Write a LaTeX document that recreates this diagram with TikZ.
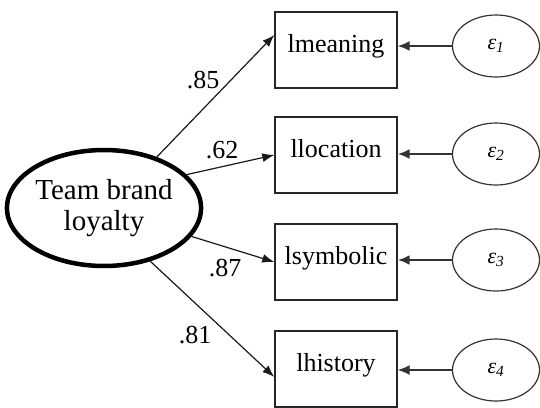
\documentclass[tikz,border=0pt]{standalone}
\usepackage{fontspec}
\setmainfont{Liberation Serif}
\usetikzlibrary{arrows.meta,shapes.geometric}
\begin{document}
\begin{tikzpicture}[x=1pt,y=-1pt,
  latent/.style={ellipse,draw=black,line width=4.5pt,minimum width=190pt,minimum height=116pt,
    inner sep=0pt,align=center,font=\fontsize{29}{31}\selectfont},
  indicator/.style={rectangle,draw=black!85,line width=1.4pt,minimum width=122pt,minimum height=76pt,
    inner sep=0pt,text height=18pt,text depth=14pt,font=\fontsize{26}{28}\selectfont},
  errterm/.style={ellipse,draw=black!80,line width=1.2pt,minimum width=87pt,minimum height=62pt,
    inner sep=0pt,font=\fontsize{22}{24}\selectfont\itshape},
  loading/.style={draw=black!90,line width=1.2pt,-{Latex[length=12pt,width=9pt]}},
  errpath/.style={draw=black!80,-{Latex[length=12pt,width=10pt]}},
  coef/.style={font=\fontsize{26}{28}\selectfont}]
\useasboundingbox (0,0) rectangle (540,407);

% latent factor
\node[latent] (tbl) at (104,208) {Team brand\\loyalty};

% observed indicators
\node[indicator] (m1) at (336,50)  {lmeaning};
\node[indicator] (m2) at (336,155) {llocation};
\node[indicator] (m3) at (336,262) {lsymbolic};
\node[indicator] (m4) at (336,369) {lhistory};

% error terms
\node[errterm] (e1) at (496,46)  {ε\textsubscript{1}};
\node[errterm] (e2) at (496,154) {ε\textsubscript{2}};
\node[errterm] (e3) at (496,260) {ε\textsubscript{3}};
\node[errterm] (e4) at (496,370) {ε\textsubscript{4}};

% factor loadings
\draw[loading] (tbl.44) -- ([yshift=15pt]m1.west);
\draw[loading] (tbl.22) -- (m2.west);
\draw[loading] (tbl.-18) -- (m3.west);
\draw[loading] (tbl.-49) -- ([yshift=-8pt]m4.west);

\node[coef] (c1) at (203,80)  {.85};
\node[coef] (c2) at (222,150) {.62};
\node[coef] (c3) at (225,268) {.87};
\node[coef] (c4) at (195,335) {.81};

% error paths
\draw[errpath,line width=1.8pt] (e1.west) -- (e1.west -| m1.east);
\draw[errpath,line width=2.2pt] (e2.west) -- (e2.west -| m2.east);
\draw[errpath,line width=2.6pt] (e3.west) -- (e3.west -| m3.east);
\draw[errpath,line width=1.4pt] (e4.west) -- (e4.west -| m4.east);
\end{tikzpicture}
\end{document}
